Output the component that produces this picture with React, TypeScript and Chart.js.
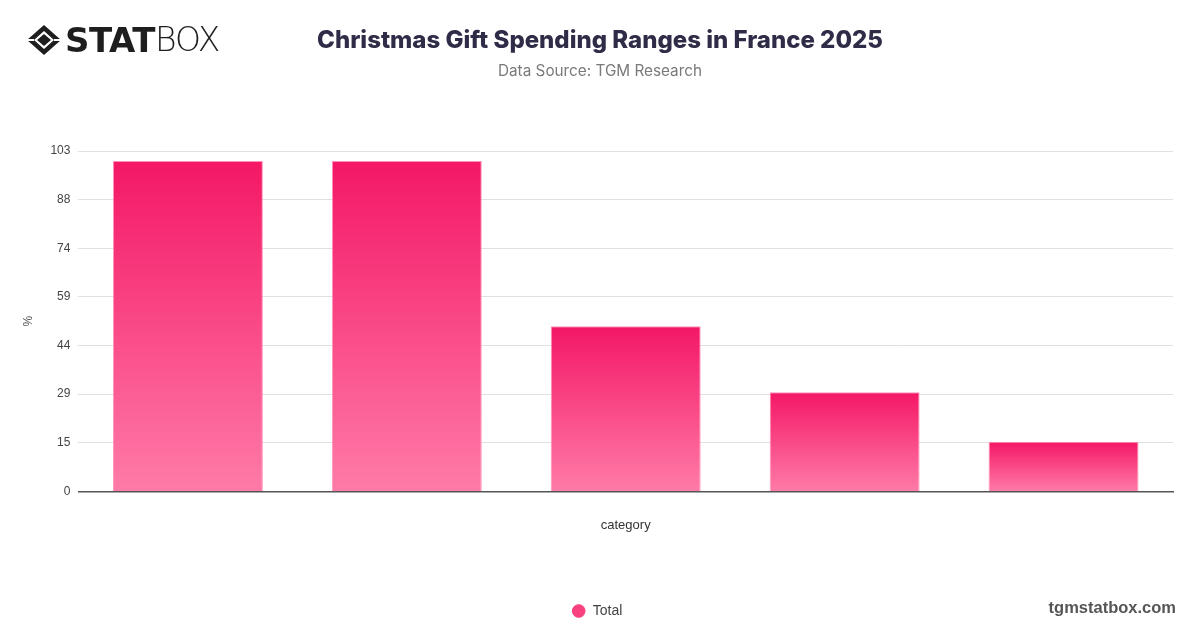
import React, { useEffect, useRef } from "react";
import { Chart, registerables } from "chart.js";

Chart.register(...registerables);

// ---- data ----
const CATEGORIES = ["Under €50", "€50–€100", "€100–€200", "€200–€500", "Over €500"];
const TOTAL = [100, 100, 50, 30, 15];
const SERIES_LABEL = "Total";
const Y_MAX = 103;
const Y_TICK_LABELS = ["0", "15", "29", "44", "59", "74", "88", "103"];
const TITLE = "Christmas Gift Spending Ranges in France 2025";
const SUBTITLE = "Data Source: TGM Research";
const X_TITLE = "category";
const Y_TITLE = "%";
const WATERMARK = "tgmstatbox.com";

const TOP_COLOR = "#F41766";
const BOTTOM_COLOR = "#FF7BA8";
const FONT = "'Liberation Sans', Arial, Helvetica, sans-serif";

function Logo() {
  return (
    <div
      style={{
        position: "absolute",
        left: 26,
        top: 22,
        height: 36,
        display: "flex",
        alignItems: "center",
        color: "#1e1e1e",
      }}
    >
      <svg width="36" height="32" viewBox="0 0 36 32">
        <polygon points="18,1 35,16 18,31 1,16" fill="#1e1e1e" />
        <polygon points="18,7 28,16 18,25 8,16" fill="#ffffff" />
        <polygon points="18,10 25,16 18,22 11,16" fill="#1e1e1e" />
        <line x1="1" y1="16" x2="8" y2="16" stroke="#fff" strokeWidth="2" />
        <line x1="28" y1="16" x2="35" y2="16" stroke="#fff" strokeWidth="2" />
      </svg>
      <span
        style={{
          fontFamily: "'DejaVu Sans', sans-serif",
          fontWeight: 900,
          fontSize: 34,
          letterSpacing: -0.5,
          marginLeft: 3,
          lineHeight: "36px",
        }}
      >
        STAT
      </span>
      <span
        style={{
          fontFamily: "'DejaVu Sans', sans-serif",
          fontWeight: 200,
          fontSize: 33,
          letterSpacing: -1,
          lineHeight: "36px",
        }}
      >
        BOX
      </span>
    </div>
  );
}

export default function App() {
  const canvasRef = useRef<HTMLCanvasElement | null>(null);

  useEffect(() => {
    const canvas = canvasRef.current;
    if (!canvas) return;
    const chart = new Chart(canvas, {
      type: "bar",
      data: {
        labels: CATEGORIES,
        datasets: [
          {
            label: SERIES_LABEL,
            data: TOTAL,
            backgroundColor: (c: any) => {
              const ch = c.chart;
              if (!ch.chartArea || c.type !== "data") return TOP_COLOR;
              const ys = ch.scales.y;
              const top = ys.getPixelForValue(c.raw as number);
              const bottom = ys.getPixelForValue(0);
              const g = ch.ctx.createLinearGradient(0, top, 0, bottom);
              g.addColorStop(0, TOP_COLOR);
              g.addColorStop(1, BOTTOM_COLOR);
              return g;
            },
            borderColor: "#FF92BA",
            borderWidth: 1,
            categoryPercentage: 1,
            barPercentage: 0.685,
          },
        ],
      },
      options: {
        animation: false,
        responsive: false,
        maintainAspectRatio: false,
        layout: { padding: { top: 151, right: 27, bottom: 0, left: 21 } },
        plugins: {
          legend: {
            position: "bottom",
            labels: {
              usePointStyle: true,
              pointStyle: "circle",
              boxWidth: 20,
              boxHeight: 9,
              color: "#444",
              font: { family: FONT, size: 14 },
              generateLabels: (ch: any) => {
                const items = Chart.defaults.plugins.legend.labels.generateLabels(ch);
                return items.map((it: any) => ({ ...it, fillStyle: "#F8427F", strokeStyle: "#F8427F" }));
              },
            },
          },
          tooltip: { enabled: false },
        },
        scales: {
          x: {
            grid: { display: false, drawTicks: false },
            border: { display: true, color: "#555", width: 1.5 },
            ticks: { display: false },
            title: {
              display: true,
              text: X_TITLE,
              color: "#333",
              font: { family: FONT, size: 13 },
              padding: { top: 26, bottom: 61 },
            },
          },
          y: {
            min: 0,
            max: Y_MAX,
            afterBuildTicks: (scale: any) => {
              scale.ticks = Y_TICK_LABELS.map((_, i) => ({
                value: (Y_MAX * i) / (Y_TICK_LABELS.length - 1),
              }));
            },
            grid: { color: "#e0e0e0", drawTicks: false, lineWidth: 1 },
            border: { display: false },
            ticks: {
              color: "#444",
              padding: 8,
              font: { family: FONT, size: 12 },
              callback: (_v: any, i: number) => Y_TICK_LABELS[i],
            },
            title: {
              display: true,
              text: Y_TITLE,
              color: "#555",
              font: { family: FONT, size: 12 },
              padding: { top: 0, bottom: 7 },
            },
          },
        },
      },
    });
    return () => chart.destroy();
  }, []);

  return (
    <div
      style={{
        position: "absolute",
        left: 0,
        top: 0,
        width: 1200,
        height: 628,
        background: "#fff",
        overflow: "hidden",
      }}
    >
      <canvas ref={canvasRef} width={1200} height={628} style={{ position: "absolute", left: 0, top: 0, width: 1200, height: 628 }} />
      <Logo />
      <div
        style={{
          position: "absolute",
          left: 0,
          width: 1200,
          top: 23,
          textAlign: "center",
          fontFamily: "Inter, 'Liberation Sans', sans-serif",
          fontWeight: 800,
          fontSize: 24,
          color: "#2f2c48",
          lineHeight: "34px",
        }}
      >
        {TITLE}
      </div>
      <div
        style={{
          position: "absolute",
          left: 0,
          width: 1200,
          top: 60,
          textAlign: "center",
          fontFamily: "Inter, 'Liberation Sans', sans-serif",
          fontSize: 15.3,
          color: "#7a7a7a",
          lineHeight: "22px",
        }}
      >
        {SUBTITLE}
      </div>
      <div
        style={{
          position: "absolute",
          right: 24,
          top: 596,
          fontFamily: "'Liberation Sans', Arial, sans-serif",
          fontWeight: 700,
          fontSize: 16.5,
          color: "#555",
          lineHeight: "22px",
        }}
      >
        {WATERMARK}
      </div>
    </div>
  );
}
